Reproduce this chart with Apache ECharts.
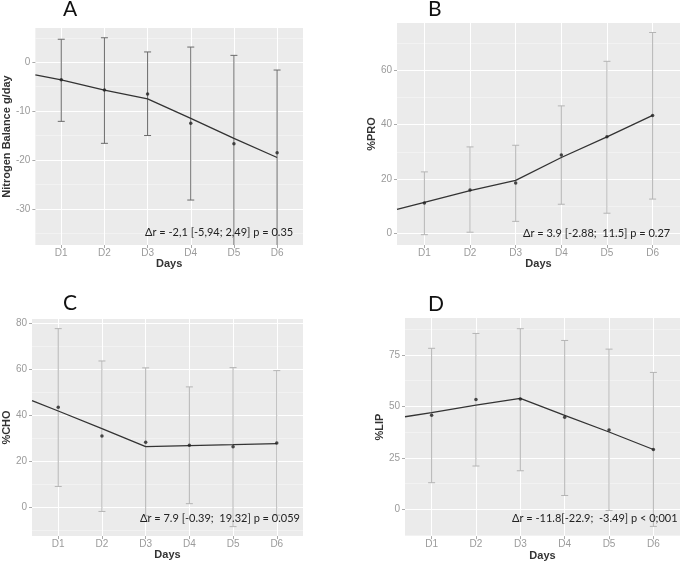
<!DOCTYPE html>
<html><head><meta charset="utf-8">
<script src="https://cdn.jsdelivr.net/npm/echarts@6/dist/echarts.min.js"></script>
<style>html,body{margin:0;padding:0;background:#fff}#c{width:685px;height:562px}</style>
</head><body><div id="c"></div>
<script>
const days = ['D1','D2','D3','D4','D5','D6'];
const dayPos = [1,2,3,4,5,6];
const xMin = 0.4, xMax = 6.6;
const fitX = [0.4,1,2,3,4,5,6];

// Panel A: Nitrogen Balance g/day
const meanA  = [-3.6, -5.7, -6.5, -12.5, -16.7, -18.5];
const upperA = [4.7, 5.0, 2.1, 3.1, 1.4, -1.6];
const lowerA = [-12.1, -16.6, -15.0, -28.2, -40, -40];
const fitA   = [-2.6, -3.6, -5.7, -7.5, -11.5, -15.6, -19.5];
const ticksA = [-30, -20, -10, 0];
const minorA = [-35, -25, -15, -5, 5];

// Panel B: %PRO
const meanB  = [11.2, 15.9, 18.5, 28.8, 35.5, 43.4];
const upperB = [22.6, 31.8, 32.4, 46.9, 63.3, 73.9];
const lowerB = [-0.5, 0.4, 4.4, 10.7, 7.4, 12.6];
const fitB   = [8.8, 11.4, 15.7, 19.5, 27.9, 35.5, 43.4];
const ticksB = [0, 20, 40, 60];
const minorB = [10, 30, 50, 70];

// Panel C: %CHO
const meanC  = [43.4, 30.9, 28.2, 26.9, 26.2, 27.8];
const upperC = [77.7, 63.6, 60.6, 52.3, 60.7, 59.4];
const lowerC = [8.9, -2.0, -3.9, 1.4, -8.6, -3.6];
const fitC   = [46.3, 41.8, 34.1, 26.3, 26.7, 27.1, 27.6];
const ticksC = [0, 20, 40, 60, 80];
const minorC = [-10, 10, 30, 50, 70];

// Panel D: %LIP
const meanD  = [45.7, 53.4, 53.6, 44.7, 38.6, 29.1];
const upperD = [78.2, 85.4, 87.7, 82.0, 77.8, 66.5];
const lowerD = [13.0, 21.1, 18.8, 6.8, -0.5, -8.2];
const fitD   = [45.0, 47.0, 50.6, 53.9, 45.7, 37.6, 29.1];
const ticksD = [0, 25, 50, 75];
const minorD = [-12.5, 12.5, 37.5, 62.5, 87.5];

const panels = [
  {letter:'A', yName:'Nitrogen Balance g/day', mean:meanA, upper:upperA, lower:lowerA, fit:fitA, ticks:ticksA, minor:minorA,
   yMin:-37.4, yMax:7.0, grid:{left:30, top:28, width:273, height:217}, nameGap:22, barColor:'#6a6a6a',
   note:'\u0394r = -2,1 [-5,94; 2,49] p = 0.35', noteX:145, noteY:234, letterX:63, letterY:10},
  {letter:'B', yName:'%PRO', mean:meanB, upper:upperB, lower:lowerB, fit:fitB, ticks:ticksB, minor:minorB,
   yMin:-4.3, yMax:77.4, grid:{left:397, top:23, width:283, height:222}, nameGap:14, barColor:'#b4b4b4',
   note:'\u0394r = 3.9 [-2.88;  11.5] p = 0.27', noteX:523, noteY:235, letterX:428, letterY:10},
  {letter:'C', yName:'%CHO', mean:meanC, upper:upperC, lower:lowerC, fit:fitC, ticks:ticksC, minor:minorC,
   yMin:-12.7, yMax:81.9, grid:{left:28, top:319, width:275, height:217}, nameGap:16, barColor:'#b4b4b4',
   note:'\u0394r = 7.9 [-0.39;  19.32] p = 0.059', noteX:140, noteY:520, letterX:63, letterY:304},
  {letter:'D', yName:'%LIP', mean:meanD, upper:upperD, lower:lowerD, fit:fitD, ticks:ticksD, minor:minorD,
   yMin:-12.9, yMax:92.9, grid:{left:405, top:318, width:275, height:219}, nameGap:14, barColor:'#b4b4b4',
   note:'\u0394r = -11.8[-22.9;  -3.49] p < 0;001', noteX:512, noteY:520, letterX:428, letterY:305}
];

function errRender(color){
  return function(params, api){
    const x = api.value(0), lo = api.value(1), hi = api.value(2);
    const pHi = api.coord([x, hi]), pLo = api.coord([x, lo]);
    const w = 3.5;
    const style = {stroke: color, lineWidth: 1, fill: null};
    return {type:'group', children:[
      {type:'line', shape:{x1:pHi[0], y1:pHi[1], x2:pLo[0], y2:pLo[1]}, style},
      {type:'line', shape:{x1:pHi[0]-w, y1:pHi[1], x2:pHi[0]+w, y2:pHi[1]}, style},
      {type:'line', shape:{x1:pLo[0]-w, y1:pLo[1], x2:pLo[0]+w, y2:pLo[1]}, style}
    ]};
  };
}

const labelFont = 'Liberation Sans, Arial, sans-serif';
const grid = [], xAxis = [], yAxis = [], series = [], graphic = [];
panels.forEach((p, i) => {
  grid.push(Object.assign({show:true, backgroundColor:'#ebebeb', borderWidth:0}, p.grid));
  xAxis.push({type:'value', gridIndex:i, min:xMin, max:xMax,
    name:'Days', nameLocation:'middle', nameGap:11,
    nameTextStyle:{fontFamily:labelFont, fontWeight:'bold', fontSize:11, color:'#333'},
    axisLine:{show:false, onZero:false},
    axisTick:{show:true, length:3, lineStyle:{color:'#aaa'}, customValues:dayPos},
    axisLabel:{customValues:dayPos, formatter:v => days[Math.round(v)-1], color:'#9a9a9a', fontSize:10, fontFamily:labelFont, margin:3},
    splitLine:{show:true, lineStyle:{color:'#ffffff', width:1}}
  });
  yAxis.push({type:'value', gridIndex:i, min:p.yMin, max:p.yMax,
    name:p.yName, nameLocation:'middle', nameGap:p.nameGap,
    nameTextStyle:{fontFamily:labelFont, fontWeight:'bold', fontSize:11, color:'#333'},
    axisLine:{show:false, onZero:false},
    axisTick:{show:true, length:3, lineStyle:{color:'#aaa'}, customValues:p.ticks},
    axisLabel:{customValues:p.ticks, color:'#9a9a9a', fontSize:10, fontFamily:labelFont, margin:5},
    splitLine:{show:true, lineStyle:{color:'#ffffff', width:1}}
  });
  // minor gridlines axis
  yAxis.push({type:'value', gridIndex:i, min:p.yMin, max:p.yMax, position:'left',
    axisLine:{show:false, onZero:false}, axisLabel:{show:false, customValues:p.minor},
    axisTick:{show:false, customValues:p.minor},
    splitLine:{show:true, lineStyle:{color:'#f6f6f6', width:0.6}}, z:0
  });
  const yMain = i*2;
  series.push({type:'custom', xAxisIndex:i, yAxisIndex:yMain, clip:true, z:2,
    renderItem:errRender(p.barColor),
    encode:{x:0, y:[1,2]},
    data: dayPos.map((d, k) => [d, p.lower[k], p.upper[k]])
  });
  series.push({type:'line', xAxisIndex:i, yAxisIndex:yMain, z:3, symbol:'none', silent:true,
    lineStyle:{color:'#333', width:1.3},
    data: fitX.map((x, k) => [x, p.fit[k]])
  });
  series.push({type:'scatter', xAxisIndex:i, yAxisIndex:yMain, z:4, symbolSize:3.5,
    itemStyle:{color:'#222'},
    data: dayPos.map((d, k) => [d, p.mean[k]])
  });
  graphic.push({type:'text', left:p.noteX, top:p.noteY-7, z:10,
    style:{text:p.note, font:'11px Lato, "Open Sans", sans-serif', fill:'#222'}});
  graphic.push({type:'text', left:p.letterX, top:p.letterY-11, z:10,
    style:{text:p.letter, font:'21px Lato, "Open Sans", sans-serif', fill:'#111'}});
});

const chart = echarts.init(document.getElementById('c'), null, {renderer:'canvas'});
chart.setOption({animation:false, backgroundColor:'#ffffff', grid, xAxis, yAxis, series, graphic});
</script>
</body></html>
